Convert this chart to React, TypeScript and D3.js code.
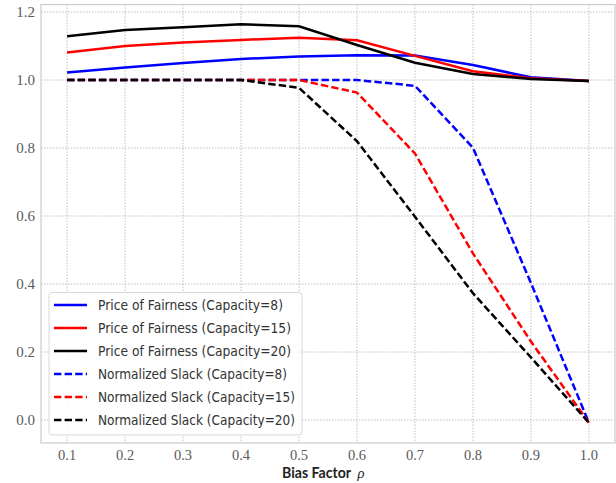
import React, { useEffect, useRef } from "react";
import * as d3 from "d3";

const rho = [0.1, 0.2, 0.3, 0.4, 0.5, 0.6, 0.7, 0.8, 0.9, 1.0];
const pofCap8 = [1.022, 1.037, 1.05, 1.062, 1.069, 1.073, 1.072, 1.044, 1.008, 0.997];
const pofCap15 = [1.081, 1.1, 1.11, 1.118, 1.124, 1.117, 1.071, 1.026, 1.005, 0.997];
const pofCap20 = [1.129, 1.147, 1.155, 1.164, 1.158, 1.103, 1.051, 1.018, 1.003, 0.997];
const slackCap8 = [1.0, 1.0, 1.0, 1.0, 1.0, 1.0, 0.983, 0.801, 0.403, -0.008];
const slackCap15 = [1.0, 1.0, 1.0, 1.0, 1.0, 0.963, 0.784, 0.49, 0.231, -0.008];
const slackCap20 = [1.0, 1.0, 1.0, 1.0, 0.977, 0.82, 0.598, 0.373, 0.184, -0.008];
const xTicks = [0.1, 0.2, 0.3, 0.4, 0.5, 0.6, 0.7, 0.8, 0.9, 1.0];
const yTicks = [0.0, 0.2, 0.4, 0.6, 0.8, 1.0, 1.2];

const seriesLabels = [
  "Price of Fairness (Capacity=8)",
  "Price of Fairness (Capacity=15)",
  "Price of Fairness (Capacity=20)",
  "Normalized Slack (Capacity=8)",
  "Normalized Slack (Capacity=15)",
  "Normalized Slack (Capacity=20)",
];
const labelWidths = [185, 193, 193, 189, 197, 197];

export default function App() {
  const ref = useRef<SVGSVGElement>(null);

  useEffect(() => {
    const svg = d3.select(ref.current);
    svg.selectAll("*").remove();
    const W = 616, H = 483;
    const left = 41, right = 615, top = 4.5, bottom = 443;

    const x = d3.scaleLinear().domain([0.055, 1.045]).range([left, right]);
    const y = d3.scaleLinear().domain([-0.0676, 1.2221]).range([bottom, top]);

    svg.append("rect").attr("width", W).attr("height", H).attr("fill", "white");

    const grid = svg.append("g");
    xTicks.forEach((t) => {
      grid.append("line")
        .attr("x1", x(t)).attr("x2", x(t)).attr("y1", top).attr("y2", bottom)
        .attr("stroke", "#b0b0b0").attr("stroke-width", 0.8).attr("stroke-dasharray", "1.5,1.5");
    });
    yTicks.forEach((t) => {
      grid.append("line")
        .attr("x1", left).attr("x2", right).attr("y1", y(t)).attr("y2", y(t))
        .attr("stroke", "#b0b0b0").attr("stroke-width", 0.8).attr("stroke-dasharray", "1.5,1.5");
    });

    svg.append("rect")
      .attr("x", left).attr("y", top).attr("width", right - left).attr("height", bottom - top)
      .attr("fill", "none").attr("stroke", "#cccccc").attr("stroke-width", 1.2);

    const tickFont = "'Liberation Serif', 'DejaVu Serif', serif";
    xTicks.forEach((t) => {
      svg.append("text").attr("x", x(t)).attr("y", 460)
        .attr("text-anchor", "middle").attr("font-family", tickFont).attr("font-size", 14.5)
        .attr("fill", "#5a5a5a").text(t.toFixed(1));
    });
    yTicks.forEach((t) => {
      svg.append("text").attr("x", 35).attr("y", y(t)).attr("dy", "0.33em")
        .attr("text-anchor", "end").attr("font-family", tickFont).attr("font-size", 15)
        .attr("fill", "#5a5a5a").text(t.toFixed(1));
    });

    svg.append("text").attr("x", 282).attr("y", 477.5)
      .attr("font-family", "Lato, 'DejaVu Sans', sans-serif").attr("font-size", 14.5)
      .attr("font-weight", "bold").attr("fill", "#222")
      .attr("textLength", 69).attr("lengthAdjust", "spacingAndGlyphs").text("Bias Factor");
    svg.append("text").attr("x", 357.5).attr("y", 477.5)
      .attr("font-family", tickFont).attr("font-style", "italic").attr("font-size", 14.5)
      .attr("fill", "#222").text("ρ");

    const line = d3.line<number>().x((_, i) => x(rho[i])).y((d) => y(d));
    const all = [pofCap8, pofCap15, pofCap20, slackCap8, slackCap15, slackCap20];
    const colors = ["#0000ff", "#ff0000", "#000000", "#0000ff", "#ff0000", "#000000"];
    all.forEach((s, i) => {
      svg.append("path").attr("d", line(s)).attr("fill", "none")
        .attr("stroke", colors[i]).attr("stroke-width", 2.5)
        .attr("stroke-dasharray", i >= 3 ? "7.4,3.2" : null);
    });

    const lg = svg.append("g");
    lg.append("rect").attr("x", 49).attr("y", 292.5).attr("width", 253).attr("height", 142.5)
      .attr("rx", 3).attr("fill", "white").attr("fill-opacity", 0.85)
      .attr("stroke", "#d8d8d8").attr("stroke-width", 1);
    seriesLabels.forEach((lab, i) => {
      const yy = 305 + i * 23;
      lg.append("line").attr("x1", 54).attr("x2", 87).attr("y1", yy).attr("y2", yy)
        .attr("stroke", colors[i]).attr("stroke-width", 2.5)
        .attr("stroke-dasharray", i >= 3 ? "7.4,3.2" : null);
      lg.append("text").attr("x", 98).attr("y", yy + 4.5)
        .attr("font-family", "'DejaVu Sans', sans-serif").attr("font-size", 13.5)
        .attr("fill", "#333").attr("textLength", labelWidths[i])
        .attr("lengthAdjust", "spacingAndGlyphs").text(lab);
    });
  }, []);

  return (
    <svg ref={ref} width={616} height={483}
      style={{ position: "absolute", left: 0, top: 0, display: "block" }} />
  );
}
